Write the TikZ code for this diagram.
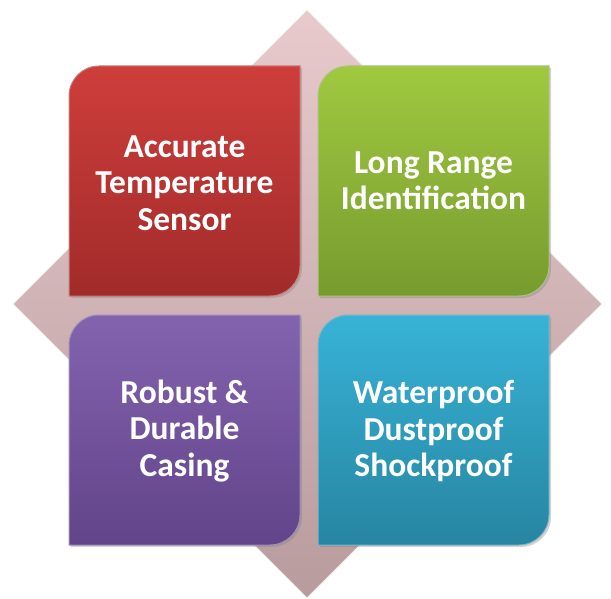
\documentclass[tikz,border=0pt]{standalone}
\usepackage{fontspec}
\setmainfont{Carlito}
\usetikzlibrary{shadows}
\definecolor{dtop}{HTML}{E8CACD}
\definecolor{dbot}{HTML}{B89C9D}
\definecolor{rtop}{HTML}{CE3E3B}
\definecolor{rbot}{HTML}{A12B2A}
\definecolor{gtop}{HTML}{A0C940}
\definecolor{gbot}{HTML}{779B2E}
\definecolor{ptop}{HTML}{8363AE}
\definecolor{pbot}{HTML}{62448A}
\definecolor{btop}{HTML}{37B3D7}
\definecolor{bbot}{HTML}{2785A1}
\tikzset{
  boxtext/.style={text=white, font=\fontsize{33.5}{36.5}\selectfont\bfseries, align=center},
  boxshape/.style={draw=#1!60!white, line width=1pt, drop shadow={opacity=0.35, shadow xshift=2pt, shadow yshift=-2pt}},
}
\newcommand{\featbox}[6]{% x1,y1,x2,y2,top,bottom
  \path[boxshape=#6, top color=#5, bottom color=#6]
    (#1,#4) -- (#1,#2+30) .. controls (#1,#2+13.4) and (#1+13.4,#2) .. (#1+30,#2)
    -- (#3,#2) -- (#3,#4-30) .. controls (#3,#4-13.4) and (#3-13.4,#4) .. (#3-30,#4) -- cycle;
}
\begin{document}
\begin{tikzpicture}[x=1pt,y=-1pt]
\useasboundingbox (0,0) rectangle (611,599);
% diamond
\path[top color=dtop, bottom color=dbot, draw=white!85!dbot, line width=1pt]
  (307,10) -- (602,304) -- (307,598) -- (13,304) -- cycle;
\featbox{69}{66}{300}{296}{rtop}{rbot}
\featbox{318}{66}{549}{296}{gtop}{gbot}
\featbox{69}{315}{300}{545}{ptop}{pbot}
\featbox{318}{315}{549}{545}{btop}{bbot}
\node[boxtext] (acc) at (184.5,183) {Accurate\\Temperature\\Sensor};
\node[boxtext] (lng) at (433.5,181) {Long Range\\Identification};
\node[boxtext] (rob) at (184.5,431) {Robust \&\\Durable\\Casing};
\node[boxtext] (wat) at (433.5,431) {Waterproof\\Dustproof\\Shockproof};
\end{tikzpicture}
\end{document}
